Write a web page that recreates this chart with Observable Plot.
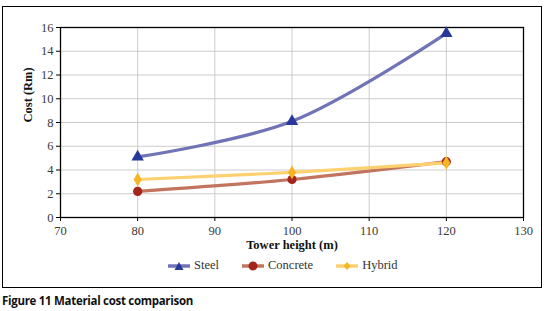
<!DOCTYPE html>
<html><head><meta charset="utf-8">
<script src="https://cdn.jsdelivr.net/npm/d3@7"></script>
<script src="https://cdn.jsdelivr.net/npm/@observablehq/plot@0.6"></script>
<style>
body{margin:0;background:#fff;width:548px;height:311px;position:relative;overflow:hidden;font-family:"Liberation Serif",serif;}
#frame{position:absolute;left:2px;top:6px;width:538px;height:280px;border:1.5px solid #000;}
#chart{position:absolute;left:0;top:0;}
#legend{position:absolute;left:168px;top:258px;display:flex;gap:23px;font-family:"Liberation Serif",serif;font-size:12.5px;color:#333;}
#legend span{display:flex;align-items:center;gap:4px}
#caption{position:absolute;left:2px;top:293px;font-family:"Open Sans","Liberation Sans",sans-serif;font-weight:700;font-size:11.5px;letter-spacing:-0.3px;color:#111}
</style></head>
<body>
<div id="frame"></div>
<div id="chart"></div>
<div id="legend"></div>
<div id="caption">Figure 11 Material cost comparison</div>
<script>
const heights = [80, 100, 120];
const steel = [5.1, 8.1, 15.5];
const concrete = [2.2, 3.2, 4.7];
const hybrid = [3.2, 3.8, 4.6];
const seriesNames = ["Steel", "Concrete", "Hybrid"];
const lineColors = ["#7074b6", "#c3745e", "#fdd070"];
const markColors = ["#26399a", "#a3261b", "#f6b524"];
const symbols = ["triangle", "circle", "diamond"];
const xTicks = [70, 80, 90, 100, 110, 120, 130];
const yTicks = [0, 2, 4, 6, 8, 10, 12, 14, 16];

const values = [steel, concrete, hybrid];
const rows = [];
seriesNames.forEach((s, i) => heights.forEach((h, j) => rows.push({series: s, height: h, cost: values[i][j]})));

const plot = Plot.plot({
  width: 548, height: 290,
  marginLeft: 60, marginRight: 25, marginTop: 27, marginBottom: 73,
  style: {fontFamily: "Liberation Serif, serif", fontSize: "12.5px", color: "#3a3a3a", background: "transparent"},
  x: {domain: [70, 130], ticks: xTicks, tickSize: 4, tickPadding: 5, label: null},
  y: {domain: [0, 16], ticks: yTicks, tickSize: 4, tickPadding: 3, label: null},
  color: {domain: seriesNames, range: lineColors},
  marks: [
    Plot.gridX(xTicks, {stroke: "#cccccc", strokeOpacity: 1, strokeWidth: 1}),
    Plot.gridY(yTicks, {stroke: "#cccccc", strokeOpacity: 1, strokeWidth: 1}),
    Plot.frame({stroke: "#000", strokeWidth: 1.3}),
    Plot.axisX({ticks: xTicks, tickSize: 4, tickPadding: 5, stroke: "#000", label: null}),
    Plot.axisY({ticks: yTicks, tickSize: 4, tickPadding: 3, stroke: "#000", label: null}),
    Plot.line(rows, {x: "height", y: "cost", z: "series", stroke: "series", strokeWidth: 3.2, curve: "catmull-rom"}),
    ...seriesNames.map((s, i) => Plot.dot(rows.filter(d => d.series === s), {
      x: "height", y: "cost", symbol: () => symbols[i], fill: markColors[i], stroke: "none",
      r: i === 0 ? 4.6 : (i === 1 ? 4.6 : 4.2)
    })),
    Plot.text(["Tower height (m)"], {frameAnchor: "bottom", dy: 31, fontWeight: "bold", fontSize: 12.5, fill: "#111"}),
    Plot.text(["Cost (Rm)"], {frameAnchor: "left", dx: -33, rotate: -90, fontWeight: "bold", fontSize: 12.5, fill: "#111"})
  ]
});
document.getElementById("chart").appendChild(plot);

const leg = document.getElementById("legend");
const shapes = [
  c => `<path d="M11,2 L15.5,10 L6.5,10 Z" fill="${c}"/>`,
  c => `<circle cx="11" cy="6" r="4.5" fill="${c}"/>`,
  c => `<path d="M11,2 L14.5,6 L11,10 L7.5,6 Z" fill="${c}"/>`
];
seriesNames.forEach((s, i) => {
  const el = document.createElement("span");
  el.innerHTML = `<svg width="22" height="12"><line x1="0" x2="22" y1="6" y2="6" stroke="${lineColors[i]}" stroke-width="3.5"/>${shapes[i](markColors[i])}</svg>${s}`;
  leg.appendChild(el);
});
</script>
</body></html>
